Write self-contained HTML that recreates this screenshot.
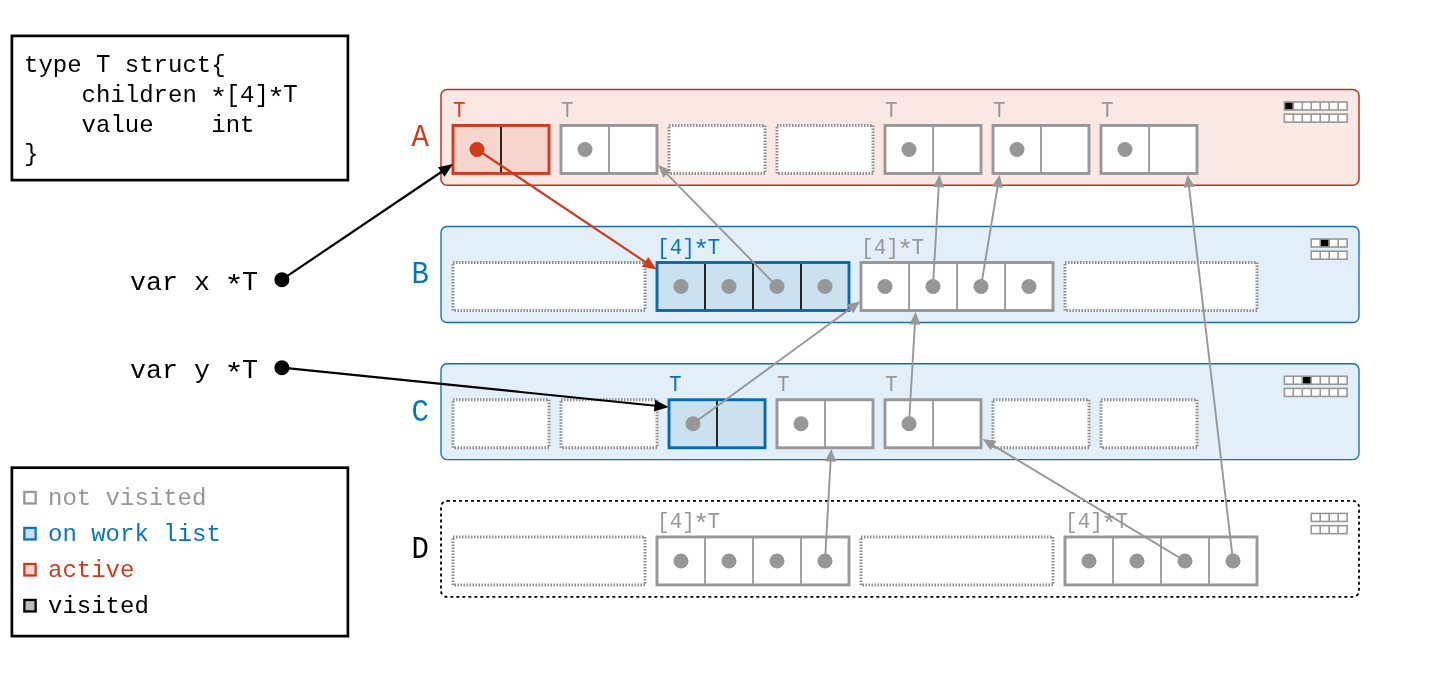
<!DOCTYPE html>
<html><head><meta charset="utf-8"><title>GC diagram</title>
<style>
html,body{margin:0;padding:0;background:#fff;width:1440px;height:675px;overflow:hidden}
svg{display:block;will-change:transform}
text{font-family:"Liberation Mono", monospace}
</style></head><body>
<svg width="1440" height="675" viewBox="0 0 1440 675">
<rect x="441.0" y="89.45" width="918.0" height="95.85" rx="6" fill="#fae8e5" stroke="#b3391f" stroke-width="1.5"/>
<rect x="441.0" y="226.5" width="918.0" height="96.0" rx="6" fill="#e2eff8" stroke="#1a6ea5" stroke-width="1.35"/>
<rect x="441.0" y="363.75" width="918.0" height="95.85" rx="6" fill="#e2eff8" stroke="#1a6ea5" stroke-width="1.35"/>
<rect x="441.0" y="500.95" width="918.0" height="95.95" rx="6" fill="#fff" stroke="#000" stroke-width="1.8" stroke-dasharray="3 3"/>
<text x="420.2" y="146.25" fill="#cf3b1c" font-size="29" text-anchor="middle" transform="translate(0 146.25) scale(1 1.1) translate(0 -146.25)">A</text>
<text x="420.2" y="283.3" fill="#0b74b8" font-size="29" text-anchor="middle" transform="translate(0 283.3) scale(1 1.1) translate(0 -283.3)">B</text>
<text x="420.2" y="420.55" fill="#0b74b8" font-size="29" text-anchor="middle" transform="translate(0 420.55) scale(1 1.1) translate(0 -420.55)">C</text>
<text x="420.2" y="557.75" fill="#000" font-size="29" text-anchor="middle" transform="translate(0 557.75) scale(1 1.1) translate(0 -557.75)">D</text>
<rect x="453" y="125.45" width="96" height="48.0" fill="#f5d5ce"/>
<line x1="501" y1="125.45" x2="501" y2="173.45" stroke="#111" stroke-width="1.8"/>
<rect x="453" y="125.45" width="96" height="48.0" fill="none" stroke="#cf3b1c" stroke-width="2.9"/>
<text x="453.10" y="116.55" font-size="21" fill="#cf3b1c" transform="translate(0 116.55) scale(1 1.040) translate(0 -116.55)">T</text>
<rect x="561" y="125.45" width="96" height="48.0" fill="#fff"/>
<line x1="609" y1="125.45" x2="609" y2="173.45" stroke="#979797" stroke-width="1.8"/>
<rect x="561" y="125.45" width="96" height="48.0" fill="none" stroke="#979797" stroke-width="2.9"/>
<text x="561.10" y="116.55" font-size="21" fill="#979797" transform="translate(0 116.55) scale(1 1.040) translate(0 -116.55)">T</text>
<rect x="669" y="125.45" width="96" height="48.0" fill="#fff" stroke="#8e8e8e" stroke-width="3" stroke-dasharray="1.5 1.5"/>
<rect x="777" y="125.45" width="96" height="48.0" fill="#fff" stroke="#8e8e8e" stroke-width="3" stroke-dasharray="1.5 1.5"/>
<rect x="885" y="125.45" width="96" height="48.0" fill="#fff"/>
<line x1="933" y1="125.45" x2="933" y2="173.45" stroke="#979797" stroke-width="1.8"/>
<rect x="885" y="125.45" width="96" height="48.0" fill="none" stroke="#979797" stroke-width="2.9"/>
<text x="885.10" y="116.55" font-size="21" fill="#979797" transform="translate(0 116.55) scale(1 1.040) translate(0 -116.55)">T</text>
<rect x="993" y="125.45" width="96" height="48.0" fill="#fff"/>
<line x1="1041" y1="125.45" x2="1041" y2="173.45" stroke="#979797" stroke-width="1.8"/>
<rect x="993" y="125.45" width="96" height="48.0" fill="none" stroke="#979797" stroke-width="2.9"/>
<text x="993.10" y="116.55" font-size="21" fill="#979797" transform="translate(0 116.55) scale(1 1.040) translate(0 -116.55)">T</text>
<rect x="1101" y="125.45" width="96" height="48.0" fill="#fff"/>
<line x1="1149" y1="125.45" x2="1149" y2="173.45" stroke="#979797" stroke-width="1.8"/>
<rect x="1101" y="125.45" width="96" height="48.0" fill="none" stroke="#979797" stroke-width="2.9"/>
<text x="1101.10" y="116.55" font-size="21" fill="#979797" transform="translate(0 116.55) scale(1 1.040) translate(0 -116.55)">T</text>
<rect x="453" y="262.5" width="192" height="48.0" fill="#fff" stroke="#8e8e8e" stroke-width="3" stroke-dasharray="1.5 1.5"/>
<rect x="657" y="262.5" width="192" height="48.0" fill="#cce1f0"/>
<line x1="705" y1="262.5" x2="705" y2="310.5" stroke="#111" stroke-width="1.8"/>
<line x1="753" y1="262.5" x2="753" y2="310.5" stroke="#111" stroke-width="1.8"/>
<line x1="801" y1="262.5" x2="801" y2="310.5" stroke="#111" stroke-width="1.8"/>
<rect x="657" y="262.5" width="192" height="48.0" fill="none" stroke="#0869ab" stroke-width="2.9"/>
<text x="657.10" y="253.60" font-size="21" fill="#0b74b8" xml:space="preserve" transform="translate(0 253.60) scale(1 1.04) translate(0 -253.60)">[4]  </text>
<text x="694.90" y="253.60" font-size="21" fill="#0b74b8" transform="translate(701.20 243.41) scale(1.3 1.25) translate(-701.20 -242.08)">*</text>
<text x="707.50" y="253.60" font-size="21" fill="#0b74b8" transform="translate(0 253.60) scale(1 1.040) translate(0 -253.60)">T</text>
<rect x="861" y="262.5" width="192" height="48.0" fill="#fff"/>
<line x1="909" y1="262.5" x2="909" y2="310.5" stroke="#979797" stroke-width="1.8"/>
<line x1="957" y1="262.5" x2="957" y2="310.5" stroke="#979797" stroke-width="1.8"/>
<line x1="1005" y1="262.5" x2="1005" y2="310.5" stroke="#979797" stroke-width="1.8"/>
<rect x="861" y="262.5" width="192" height="48.0" fill="none" stroke="#979797" stroke-width="2.9"/>
<text x="861.10" y="253.60" font-size="21" fill="#979797" xml:space="preserve" transform="translate(0 253.60) scale(1 1.04) translate(0 -253.60)">[4]  </text>
<text x="898.90" y="253.60" font-size="21" fill="#979797" transform="translate(905.20 243.41) scale(1.3 1.25) translate(-905.20 -242.08)">*</text>
<text x="911.50" y="253.60" font-size="21" fill="#979797" transform="translate(0 253.60) scale(1 1.040) translate(0 -253.60)">T</text>
<rect x="1065" y="262.5" width="192" height="48.0" fill="#fff" stroke="#8e8e8e" stroke-width="3" stroke-dasharray="1.5 1.5"/>
<rect x="453" y="399.75" width="96" height="48.0" fill="#fff" stroke="#8e8e8e" stroke-width="3" stroke-dasharray="1.5 1.5"/>
<rect x="561" y="399.75" width="96" height="48.0" fill="#fff" stroke="#8e8e8e" stroke-width="3" stroke-dasharray="1.5 1.5"/>
<rect x="669" y="399.75" width="96" height="48.0" fill="#cce1f0"/>
<line x1="717" y1="399.75" x2="717" y2="447.75" stroke="#111" stroke-width="1.8"/>
<rect x="669" y="399.75" width="96" height="48.0" fill="none" stroke="#0869ab" stroke-width="2.9"/>
<text x="669.10" y="390.85" font-size="21" fill="#0b74b8" transform="translate(0 390.85) scale(1 1.040) translate(0 -390.85)">T</text>
<rect x="777" y="399.75" width="96" height="48.0" fill="#fff"/>
<line x1="825" y1="399.75" x2="825" y2="447.75" stroke="#979797" stroke-width="1.8"/>
<rect x="777" y="399.75" width="96" height="48.0" fill="none" stroke="#979797" stroke-width="2.9"/>
<text x="777.10" y="390.85" font-size="21" fill="#979797" transform="translate(0 390.85) scale(1 1.040) translate(0 -390.85)">T</text>
<rect x="885" y="399.75" width="96" height="48.0" fill="#fff"/>
<line x1="933" y1="399.75" x2="933" y2="447.75" stroke="#979797" stroke-width="1.8"/>
<rect x="885" y="399.75" width="96" height="48.0" fill="none" stroke="#979797" stroke-width="2.9"/>
<text x="885.10" y="390.85" font-size="21" fill="#979797" transform="translate(0 390.85) scale(1 1.040) translate(0 -390.85)">T</text>
<rect x="993" y="399.75" width="96" height="48.0" fill="#fff" stroke="#8e8e8e" stroke-width="3" stroke-dasharray="1.5 1.5"/>
<rect x="1101" y="399.75" width="96" height="48.0" fill="#fff" stroke="#8e8e8e" stroke-width="3" stroke-dasharray="1.5 1.5"/>
<rect x="453" y="536.95" width="192" height="48.0" fill="#fff" stroke="#8e8e8e" stroke-width="3" stroke-dasharray="1.5 1.5"/>
<rect x="657" y="536.95" width="192" height="48.0" fill="#fff"/>
<line x1="705" y1="536.95" x2="705" y2="584.95" stroke="#979797" stroke-width="1.8"/>
<line x1="753" y1="536.95" x2="753" y2="584.95" stroke="#979797" stroke-width="1.8"/>
<line x1="801" y1="536.95" x2="801" y2="584.95" stroke="#979797" stroke-width="1.8"/>
<rect x="657" y="536.95" width="192" height="48.0" fill="none" stroke="#979797" stroke-width="2.9"/>
<text x="657.10" y="528.05" font-size="21" fill="#979797" xml:space="preserve" transform="translate(0 528.05) scale(1 1.04) translate(0 -528.05)">[4]  </text>
<text x="694.90" y="528.05" font-size="21" fill="#979797" transform="translate(701.20 517.87) scale(1.3 1.25) translate(-701.20 -516.53)">*</text>
<text x="707.50" y="528.05" font-size="21" fill="#979797" transform="translate(0 528.05) scale(1 1.040) translate(0 -528.05)">T</text>
<rect x="861" y="536.95" width="192" height="48.0" fill="#fff" stroke="#8e8e8e" stroke-width="3" stroke-dasharray="1.5 1.5"/>
<rect x="1065" y="536.95" width="192" height="48.0" fill="#fff"/>
<line x1="1113" y1="536.95" x2="1113" y2="584.95" stroke="#979797" stroke-width="1.8"/>
<line x1="1161" y1="536.95" x2="1161" y2="584.95" stroke="#979797" stroke-width="1.8"/>
<line x1="1209" y1="536.95" x2="1209" y2="584.95" stroke="#979797" stroke-width="1.8"/>
<rect x="1065" y="536.95" width="192" height="48.0" fill="none" stroke="#979797" stroke-width="2.9"/>
<text x="1065.10" y="528.05" font-size="21" fill="#979797" xml:space="preserve" transform="translate(0 528.05) scale(1 1.04) translate(0 -528.05)">[4]  </text>
<text x="1102.90" y="528.05" font-size="21" fill="#979797" transform="translate(1109.20 517.87) scale(1.3 1.25) translate(-1109.20 -516.53)">*</text>
<text x="1115.50" y="528.05" font-size="21" fill="#979797" transform="translate(0 528.05) scale(1 1.040) translate(0 -528.05)">T</text>
<rect x="1284.38" y="101.95" width="62.72" height="8.0" fill="#fff" stroke="#979797" stroke-width="1.6"/>
<line x1="1293.34" y1="101.95" x2="1293.34" y2="109.95" stroke="#979797" stroke-width="1.6"/>
<line x1="1302.30" y1="101.95" x2="1302.30" y2="109.95" stroke="#979797" stroke-width="1.6"/>
<line x1="1311.26" y1="101.95" x2="1311.26" y2="109.95" stroke="#979797" stroke-width="1.6"/>
<line x1="1320.22" y1="101.95" x2="1320.22" y2="109.95" stroke="#979797" stroke-width="1.6"/>
<line x1="1329.18" y1="101.95" x2="1329.18" y2="109.95" stroke="#979797" stroke-width="1.6"/>
<line x1="1338.14" y1="101.95" x2="1338.14" y2="109.95" stroke="#979797" stroke-width="1.6"/>
<rect x="1284.38" y="114.15" width="62.72" height="8.0" fill="#fff" stroke="#979797" stroke-width="1.6"/>
<line x1="1293.34" y1="114.15" x2="1293.34" y2="122.15" stroke="#979797" stroke-width="1.6"/>
<line x1="1302.30" y1="114.15" x2="1302.30" y2="122.15" stroke="#979797" stroke-width="1.6"/>
<line x1="1311.26" y1="114.15" x2="1311.26" y2="122.15" stroke="#979797" stroke-width="1.6"/>
<line x1="1320.22" y1="114.15" x2="1320.22" y2="122.15" stroke="#979797" stroke-width="1.6"/>
<line x1="1329.18" y1="114.15" x2="1329.18" y2="122.15" stroke="#979797" stroke-width="1.6"/>
<line x1="1338.14" y1="114.15" x2="1338.14" y2="122.15" stroke="#979797" stroke-width="1.6"/>
<rect x="1285.16" y="102.73" width="7.40" height="6.44" fill="#000"/>
<rect x="1311.26" y="239.00" width="35.84" height="8.0" fill="#fff" stroke="#979797" stroke-width="1.6"/>
<line x1="1320.22" y1="239.00" x2="1320.22" y2="247.00" stroke="#979797" stroke-width="1.6"/>
<line x1="1329.18" y1="239.00" x2="1329.18" y2="247.00" stroke="#979797" stroke-width="1.6"/>
<line x1="1338.14" y1="239.00" x2="1338.14" y2="247.00" stroke="#979797" stroke-width="1.6"/>
<rect x="1311.26" y="251.20" width="35.84" height="8.0" fill="#fff" stroke="#979797" stroke-width="1.6"/>
<line x1="1320.22" y1="251.20" x2="1320.22" y2="259.20" stroke="#979797" stroke-width="1.6"/>
<line x1="1329.18" y1="251.20" x2="1329.18" y2="259.20" stroke="#979797" stroke-width="1.6"/>
<line x1="1338.14" y1="251.20" x2="1338.14" y2="259.20" stroke="#979797" stroke-width="1.6"/>
<rect x="1321.00" y="239.78" width="7.40" height="6.44" fill="#000"/>
<rect x="1284.38" y="376.25" width="62.72" height="8.0" fill="#fff" stroke="#979797" stroke-width="1.6"/>
<line x1="1293.34" y1="376.25" x2="1293.34" y2="384.25" stroke="#979797" stroke-width="1.6"/>
<line x1="1302.30" y1="376.25" x2="1302.30" y2="384.25" stroke="#979797" stroke-width="1.6"/>
<line x1="1311.26" y1="376.25" x2="1311.26" y2="384.25" stroke="#979797" stroke-width="1.6"/>
<line x1="1320.22" y1="376.25" x2="1320.22" y2="384.25" stroke="#979797" stroke-width="1.6"/>
<line x1="1329.18" y1="376.25" x2="1329.18" y2="384.25" stroke="#979797" stroke-width="1.6"/>
<line x1="1338.14" y1="376.25" x2="1338.14" y2="384.25" stroke="#979797" stroke-width="1.6"/>
<rect x="1284.38" y="388.45" width="62.72" height="8.0" fill="#fff" stroke="#979797" stroke-width="1.6"/>
<line x1="1293.34" y1="388.45" x2="1293.34" y2="396.45" stroke="#979797" stroke-width="1.6"/>
<line x1="1302.30" y1="388.45" x2="1302.30" y2="396.45" stroke="#979797" stroke-width="1.6"/>
<line x1="1311.26" y1="388.45" x2="1311.26" y2="396.45" stroke="#979797" stroke-width="1.6"/>
<line x1="1320.22" y1="388.45" x2="1320.22" y2="396.45" stroke="#979797" stroke-width="1.6"/>
<line x1="1329.18" y1="388.45" x2="1329.18" y2="396.45" stroke="#979797" stroke-width="1.6"/>
<line x1="1338.14" y1="388.45" x2="1338.14" y2="396.45" stroke="#979797" stroke-width="1.6"/>
<rect x="1303.08" y="377.03" width="7.40" height="6.44" fill="#000"/>
<rect x="1311.26" y="513.45" width="35.84" height="8.0" fill="#fff" stroke="#979797" stroke-width="1.6"/>
<line x1="1320.22" y1="513.45" x2="1320.22" y2="521.45" stroke="#979797" stroke-width="1.6"/>
<line x1="1329.18" y1="513.45" x2="1329.18" y2="521.45" stroke="#979797" stroke-width="1.6"/>
<line x1="1338.14" y1="513.45" x2="1338.14" y2="521.45" stroke="#979797" stroke-width="1.6"/>
<rect x="1311.26" y="525.65" width="35.84" height="8.0" fill="#fff" stroke="#979797" stroke-width="1.6"/>
<line x1="1320.22" y1="525.65" x2="1320.22" y2="533.65" stroke="#979797" stroke-width="1.6"/>
<line x1="1329.18" y1="525.65" x2="1329.18" y2="533.65" stroke="#979797" stroke-width="1.6"/>
<line x1="1338.14" y1="525.65" x2="1338.14" y2="533.65" stroke="#979797" stroke-width="1.6"/>
<circle cx="477" cy="149.45" r="7.5" fill="#cf3b1c"/>
<circle cx="585" cy="149.45" r="7.5" fill="#979797"/>
<circle cx="909" cy="149.45" r="7.5" fill="#979797"/>
<circle cx="1017" cy="149.45" r="7.5" fill="#979797"/>
<circle cx="1125" cy="149.45" r="7.5" fill="#979797"/>
<circle cx="681" cy="286.5" r="7.5" fill="#979797"/>
<circle cx="885" cy="286.5" r="7.5" fill="#979797"/>
<circle cx="729" cy="286.5" r="7.5" fill="#979797"/>
<circle cx="933" cy="286.5" r="7.5" fill="#979797"/>
<circle cx="777" cy="286.5" r="7.5" fill="#979797"/>
<circle cx="981" cy="286.5" r="7.5" fill="#979797"/>
<circle cx="825" cy="286.5" r="7.5" fill="#979797"/>
<circle cx="1029" cy="286.5" r="7.5" fill="#979797"/>
<circle cx="693" cy="423.75" r="7.5" fill="#979797"/>
<circle cx="801" cy="423.75" r="7.5" fill="#979797"/>
<circle cx="909" cy="423.75" r="7.5" fill="#979797"/>
<circle cx="681" cy="560.95" r="7.5" fill="#979797"/>
<circle cx="1089" cy="560.95" r="7.5" fill="#979797"/>
<circle cx="729" cy="560.95" r="7.5" fill="#979797"/>
<circle cx="1137" cy="560.95" r="7.5" fill="#979797"/>
<circle cx="777" cy="560.95" r="7.5" fill="#979797"/>
<circle cx="1185" cy="560.95" r="7.5" fill="#979797"/>
<circle cx="825" cy="560.95" r="7.5" fill="#979797"/>
<circle cx="1233" cy="560.95" r="7.5" fill="#979797"/>
<line x1="777" y1="286.5" x2="666.31" y2="173.29" stroke="#979797" stroke-width="1.9"/>
<polygon points="658.20,165.00 670.80,170.30 663.22,177.71" fill="#979797"/>
<line x1="933" y1="286.5" x2="938.74" y2="186.28" stroke="#979797" stroke-width="1.9"/>
<polygon points="939.40,174.70 944.17,187.59 933.19,186.97" fill="#979797"/>
<line x1="981" y1="286.5" x2="997.70" y2="186.14" stroke="#979797" stroke-width="1.9"/>
<polygon points="999.60,174.70 1002.96,188.03 992.11,186.23" fill="#979797"/>
<line x1="1233" y1="560.95" x2="1188.95" y2="186.22" stroke="#979797" stroke-width="1.9"/>
<polygon points="1187.60,174.70 1194.53,186.57 1183.61,187.86" fill="#979797"/>
<line x1="693" y1="423.75" x2="850.84" y2="308.25" stroke="#979797" stroke-width="1.9"/>
<polygon points="860.20,301.40 853.28,313.28 846.78,304.40" fill="#979797"/>
<line x1="909" y1="423.75" x2="914.92" y2="323.48" stroke="#979797" stroke-width="1.9"/>
<polygon points="915.60,311.90 920.35,324.80 909.37,324.15" fill="#979797"/>
<line x1="825" y1="560.95" x2="830.65" y2="460.48" stroke="#979797" stroke-width="1.9"/>
<polygon points="831.30,448.90 836.08,461.79 825.10,461.17" fill="#979797"/>
<line x1="1185" y1="560.95" x2="992.64" y2="445.09" stroke="#979797" stroke-width="1.9"/>
<polygon points="982.70,439.10 996.33,440.89 990.66,450.31" fill="#979797"/>
<line x1="477" y1="149.45" x2="645.89" y2="262.37" stroke="#cf3b1c" stroke-width="2.3"/>
<polygon points="656.70,269.60 641.84,266.64 648.29,257.00" fill="#cf3b1c"/>
<line x1="281.9" y1="279.7" x2="442.06" y2="171.49" stroke="#000" stroke-width="2.2"/>
<polygon points="453.00,164.10 444.48,176.86 437.99,167.24" fill="#000"/>
<line x1="281.9" y1="367.7" x2="655.57" y2="405.76" stroke="#000" stroke-width="2.2"/>
<polygon points="668.70,407.10 653.99,411.43 655.16,399.89" fill="#000"/>
<circle cx="281.9" cy="279.7" r="7.5" fill="#000"/>
<circle cx="281.9" cy="367.7" r="7.5" fill="#000"/>
<rect x="11.9" y="35.9" width="336.0" height="144.2" fill="#fff" stroke="#000" stroke-width="2.7"/>
<text x="24.00" y="71.90" font-size="24" fill="#000" xml:space="preserve">type   struct{</text>
<text x="96.00" y="71.90" font-size="24" fill="#000" transform="translate(0 71.90) scale(1 1.080) translate(0 -71.90)">T</text>
<text x="24.00" y="101.70" font-size="24" fill="#000" xml:space="preserve">    children  [4]  </text>
<text x="211.20" y="101.70" font-size="24" fill="#000" transform="translate(218.40 91.64) scale(1.25 1.1) translate(-218.40 -88.54)">*</text>
<text x="268.80" y="101.70" font-size="24" fill="#000" transform="translate(276.00 91.64) scale(1.25 1.1) translate(-276.00 -88.54)">*</text>
<text x="283.20" y="101.70" font-size="24" fill="#000" transform="translate(0 101.70) scale(1 1.080) translate(0 -101.70)">T</text>
<text x="24.00" y="131.50" font-size="24" fill="#000" xml:space="preserve">    value    int</text>
<text x="24.00" y="161.30" font-size="24" fill="#000" xml:space="preserve">}</text>
<text x="130.00" y="290.00" font-size="26.67" fill="#000" xml:space="preserve">var x   </text>
<text x="226.01" y="290.00" font-size="26.67" fill="#000" transform="translate(234.01 278.75) scale(1.22 1.07) translate(-234.01 -275.37)">*</text>
<text x="242.01" y="290.00" font-size="26.67" fill="#000" transform="translate(0 290.00) scale(1 1.065) translate(0 -290.00)">T</text>
<text x="130.00" y="377.75" font-size="26.67" fill="#000" xml:space="preserve">var y   </text>
<text x="226.01" y="377.75" font-size="26.67" fill="#000" transform="translate(234.01 366.50) scale(1.22 1.07) translate(-234.01 -363.12)">*</text>
<text x="242.01" y="377.75" font-size="26.67" fill="#000" transform="translate(0 377.75) scale(1 1.065) translate(0 -377.75)">T</text>
<rect x="11.9" y="467.7" width="336.0" height="168.4" fill="#fff" stroke="#000" stroke-width="2.7"/>
<rect x="24.35" y="491.95" width="11.3" height="11.5" fill="#fff" stroke="#979797" stroke-width="2.3"/>
<text x="48" y="505.0" font-size="24" fill="#979797" xml:space="preserve">not visited</text>
<rect x="24.35" y="527.95" width="11.3" height="11.5" fill="#cce1f0" stroke="#0b74b8" stroke-width="2.3"/>
<text x="48" y="541.0" font-size="24" fill="#0b74b8" xml:space="preserve">on work list</text>
<rect x="24.35" y="563.95" width="11.3" height="11.5" fill="#f5d5ce" stroke="#cf3b1c" stroke-width="2.3"/>
<text x="48" y="577.0" font-size="24" fill="#cf3b1c" xml:space="preserve">active</text>
<rect x="24.35" y="599.95" width="11.3" height="11.5" fill="#bbb" stroke="#000" stroke-width="2.3"/>
<text x="48" y="613.0" font-size="24" fill="#000" xml:space="preserve">visited</text>
</svg>
</body></html>
